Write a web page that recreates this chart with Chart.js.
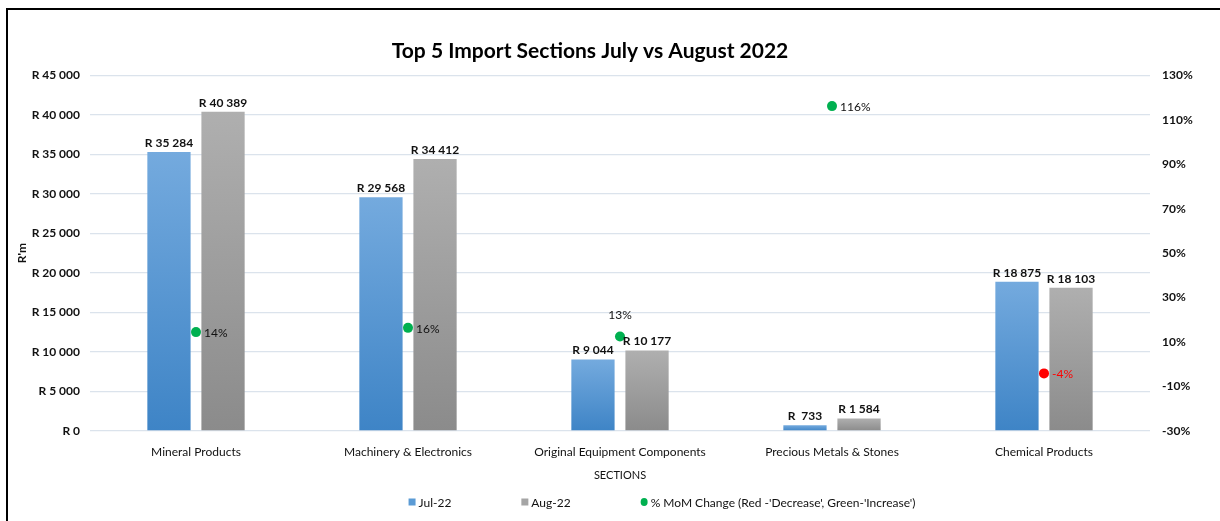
<!DOCTYPE html>
<html>
<head>
<meta charset="utf-8">
<title>Top 5 Import Sections July vs August 2022</title>
<script src="https://cdn.jsdelivr.net/npm/chart.js@4.4.0/dist/chart.umd.min.js"></script>
<style>
    html, body { margin: 0; padding: 0; background: #fff; }
    body { width: 1220px; height: 521px; overflow: hidden; position: relative; }
    #frame { position: absolute; left: 6px; top: 8px; width: 1300px; height: 600px; border-left: 2px solid #000; border-top: 2px solid #000; }
    #wrap { position: absolute; left: 0; top: 0; width: 1220px; height: 521px; }
</style>
</head>
<body>
<div id="frame"></div>
<div id="wrap"><canvas id="importChart"></canvas></div>
<script>
const sections = ['Mineral Products', 'Machinery & Electronics', 'Original Equipment Components', 'Precious Metals & Stones', 'Chemical Products'];
const jul22 = [35284, 29568, 9044, 733, 18875];
const aug22 = [40389, 34412, 10177, 1584, 18103];
const momChange = [14.47, 16.38, 12.53, 116.10, -4.09];
const randTicks = [0, 5000, 10000, 15000, 20000, 25000, 30000, 35000, 40000, 45000];
const pctTicks = [-30, -10, 10, 30, 50, 70, 90, 110, 130];

const FONT = "Lato, 'DejaVu Sans Condensed', sans-serif";
Chart.defaults.font.family = FONT;
Chart.defaults.color = '#222';

// R 45 000 style, like the Excel "R # ##0" format
function randLabel(v) {
    const s = Math.round(v).toString().replace(/\B(?=(\d{3})+(?!\d))/g, ' ');
    return (v > 0 && v < 1000 ? 'R  ' : 'R ') + s;
}

function barGradient(ctx, top, bottom) {
    const chart = ctx.chart;
    if (!chart.chartArea || ctx.raw == null) return bottom;
    const y = chart.scales.y;
    const y0 = y.getPixelForValue(ctx.raw);
    const y1 = y.getPixelForValue(0);
    if (!isFinite(y0) || y0 === y1) return bottom;
    const g = chart.ctx.createLinearGradient(0, y0, 0, y1);
    g.addColorStop(0, top);
    g.addColorStop(1, bottom);
    return g;
}

// value labels on bars and points
const valueLabels = {
    id: 'valueLabels',
    afterDatasetsDraw(chart) {
        const ctx = chart.ctx;
        ctx.save();
        chart.data.datasets.forEach((ds, di) => {
            const meta = chart.getDatasetMeta(di);
            meta.data.forEach((el, i) => {
                const v = ds.data[i];
                if (ds.type === 'line') {
                    ctx.font = '12px ' + FONT;
                    ctx.fillStyle = v < 0 ? '#ff0000' : '#111';
                    ctx.textBaseline = 'middle';
                    const txt = Math.round(v) + '%';
                    if (i === 2) {
                        ctx.textAlign = 'center';
                        ctx.fillText(txt, el.x, el.y - 21);
                    } else {
                        ctx.textAlign = 'left';
                        ctx.fillText(txt, el.x + 8, el.y + 1);
                    }
                } else {
                    ctx.font = 'bold 12px ' + FONT;
                    ctx.fillStyle = '#111';
                    ctx.textAlign = 'center';
                    ctx.textBaseline = 'bottom';
                    ctx.fillText(randLabel(v), el.x, el.y - 3);
                }
            });
        });
        ctx.restore();
    }
};

// legend drawn by hand so the wide Excel spacing can be kept
const wideLegend = {
    id: 'wideLegend',
    afterLayout(chart) {
        if (chart.titleBlock) {
            chart.titleBlock.left -= 20;
            chart.titleBlock.right -= 20;
        }
    },
    afterDraw(chart) {
        const ctx = chart.ctx;
        const gap = 70, mark = 10, centerX = 662, y = 502;
        ctx.save();
        ctx.font = '12px ' + FONT;
        const items = chart.data.datasets.map(ds => ({
            text: ds.label,
            type: ds.type,
            color: ds.legendColor,
            width: mark + ctx.measureText(ds.label).width
        }));
        const total = items.reduce((s, it) => s + it.width, 0) + gap * (items.length - 1);
        let x = centerX - total / 2;
        items.forEach(it => {
            ctx.fillStyle = it.color;
            if (it.type === 'line') {
                ctx.beginPath();
                ctx.ellipse(x + 3.5, y, 3.5, 4, 0, 0, Math.PI * 2);
                ctx.fill();
            } else {
                ctx.fillRect(x, y - 3.5, 7, 7);
            }
            ctx.fillStyle = '#111';
            ctx.textAlign = 'left';
            ctx.textBaseline = 'middle';
            ctx.fillText(it.text, x + mark, y + 1);
            x += it.width + gap;
        });
        ctx.restore();
    }
};

const chart = new Chart(document.getElementById('importChart'), {
    type: 'bar',
    data: {
        labels: sections,
        datasets: [{
            label: 'Jul-22',
            data: jul22,
            backgroundColor: ctx => barGradient(ctx, '#74aade', '#3e84c6'),
            legendColor: '#5b9bd5',
            yAxisID: 'y',
            barPercentage: 0.8,
            categoryPercentage: 0.51,
            order: 1
        }, {
            label: 'Aug-22',
            data: aug22,
            backgroundColor: ctx => barGradient(ctx, '#afafaf', '#8b8b8b'),
            legendColor: '#a5a5a5',
            yAxisID: 'y',
            barPercentage: 0.8,
            categoryPercentage: 0.51,
            order: 1
        }, {
            type: 'line',
            label: "% MoM Change (Red -'Decrease', Green-'Increase')",
            data: momChange,
            yAxisID: 'y1',
            showLine: false,
            pointRadius: 5,
            pointHoverRadius: 5,
            pointBorderWidth: 0,
            pointBackgroundColor: momChange.map(v => v < 0 ? '#ff0000' : '#00b050'),
            legendColor: '#00b050',
            order: 0
        }]
    },
    options: {
        responsive: true,
        maintainAspectRatio: false,
        animation: false,
        layout: { padding: { top: 0, left: 0, right: 0, bottom: 35 } },
        plugins: {
            legend: { display: false },
            tooltip: { enabled: false },
            title: {
                display: true,
                text: 'Top 5 Import Sections July vs August 2022',
                color: '#000',
                font: { size: 21, weight: 'bold' },
                padding: { top: 39, bottom: 11 }
            }
        },
        scales: {
            x: {
                grid: { display: false },
                border: { display: false },
                ticks: { color: '#111', font: { size: 12 }, padding: 6, maxRotation: 0 },
                title: { display: true, text: 'SECTIONS', color: '#111', font: { size: 11 }, padding: { top: 11 } },
                afterFit: scale => { scale.height = 55; }
            },
            y: {
                position: 'left',
                min: randTicks[0],
                max: randTicks[randTicks.length - 1],
                grid: { color: '#dbe3ec', lineWidth: 1.3, drawTicks: false },
                border: { display: false },
                ticks: {
                    stepSize: randTicks[1] - randTicks[0],
                    callback: v => randLabel(v),
                    color: '#111',
                    font: { size: 12, weight: 'bold' },
                    padding: 10
                },
                title: { display: true, text: "R'm", color: '#111', font: { size: 12, weight: 'bold' }, padding: { top: 15, bottom: 0 } },
                afterFit: scale => { scale.width = 90; }
            },
            y1: {
                position: 'right',
                min: pctTicks[0],
                max: pctTicks[pctTicks.length - 1],
                grid: { display: false, drawTicks: false },
                border: { display: false },
                ticks: {
                    stepSize: pctTicks[1] - pctTicks[0],
                    callback: v => v + '%',
                    color: '#111',
                    font: { size: 12, weight: 'bold' },
                    padding: 12
                },
                afterFit: scale => { scale.width = 70; }
            }
        }
    },
    plugins: [valueLabels, wideLegend]
});
</script>
</body>
</html>
